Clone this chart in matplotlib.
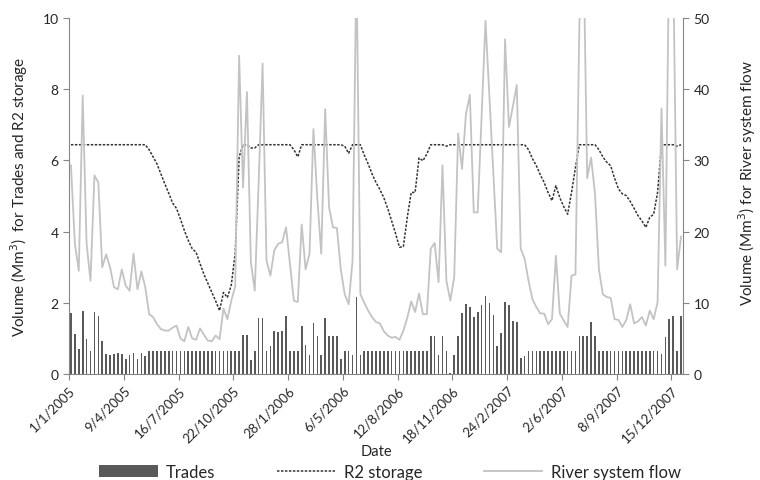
import numpy as np
import matplotlib.pyplot as plt
from matplotlib.patches import Patch
from matplotlib.lines import Line2D

plt.rcParams['font.family'] = ['Lato', 'DejaVu Sans']

# weekly values, 1/1/2005 onwards
trades = [1.71, 1.12, 0.70, 1.76, 0.98, 0.65, 1.73, 1.62, 0.92, 0.56,
          0.53, 0.56, 0.58, 0.56, 0.41, 0.53, 0.58, 0.41, 0.58, 0.50,
          0.64, 0.64, 0.64, 0.64, 0.64, 0.64, 0.64, 0.64, 0.64, 0.64,
          0.64, 0.64, 0.64, 0.64, 0.64, 0.64, 0.64, 0.64, 0.64, 0.64,
          0.64, 0.64, 0.64, 0.64, 1.10, 1.10, 0.40, 0.64, 1.56, 1.56,
          0.64, 0.80, 1.22, 1.17, 1.22, 1.64, 0.64, 0.64, 0.64, 1.36,
          0.82, 0.54, 1.43, 1.08, 0.54, 1.57, 1.08, 1.08, 1.08, 0.42,
          0.64, 0.64, 0.54, 2.17, 0.54, 0.64, 0.64, 0.64, 0.64, 0.64,
          0.64, 0.64, 0.64, 0.64, 0.64, 0.64, 0.64, 0.64, 0.64, 0.64,
          0.64, 0.64, 1.08, 1.08, 0.54, 1.08, 0.64, 0.03, 0.54, 1.08,
          1.71, 1.97, 1.89, 1.59, 1.73, 1.95, 2.18, 1.99, 1.66, 0.80,
          1.14, 2.03, 1.94, 1.50, 1.47, 0.44, 0.50, 0.64, 0.64, 0.64,
          0.64, 0.64, 0.64, 0.64, 0.64, 0.64, 0.64, 0.64, 0.64, 0.64,
          1.08, 1.08, 1.08, 1.45, 1.08, 0.64, 0.64, 0.64, 0.64, 0.64,
          0.64, 0.64, 0.64, 0.64, 0.64, 0.64, 0.64, 0.64, 0.64, 0.64,
          0.64, 0.56, 1.03, 1.55, 1.64, 0.64, 1.64]

storage = [6.44, 6.44, 6.44, 6.44, 6.44, 6.44, 6.44, 6.44, 6.44, 6.44,
           6.44, 6.44, 6.44, 6.44, 6.44, 6.44, 6.44, 6.44, 6.44, 6.44,
           6.30, 6.10, 5.90, 5.62, 5.34, 5.08, 4.80, 4.65, 4.35, 4.03,
           3.75, 3.52, 3.42, 3.10, 2.80, 2.55, 2.30, 2.05, 1.78, 2.29,
           2.15, 2.50, 3.40, 6.10, 6.44, 6.44, 6.35, 6.35, 6.44, 6.44,
           6.44, 6.44, 6.44, 6.44, 6.44, 6.44, 6.44, 6.30, 6.10, 6.44,
           6.44, 6.44, 6.44, 6.44, 6.44, 6.44, 6.44, 6.44, 6.44, 6.44,
           6.40, 6.20, 6.44, 6.44, 6.44, 6.15, 5.90, 5.62, 5.38, 5.18,
           4.95, 4.65, 4.30, 3.95, 3.56, 3.58, 4.40, 5.10, 5.10, 6.07,
           5.99, 6.18, 6.44, 6.44, 6.44, 6.44, 6.40, 6.44, 6.44, 6.44,
           6.44, 6.44, 6.44, 6.44, 6.44, 6.44, 6.44, 6.44, 6.44, 6.44,
           6.44, 6.44, 6.44, 6.44, 6.44, 6.44, 6.44, 6.30, 6.05, 5.85,
           5.60, 5.38, 5.10, 4.87, 5.29, 4.95, 4.70, 4.49, 5.10, 5.80,
           6.44, 6.44, 6.44, 6.44, 6.44, 6.30, 6.10, 5.95, 5.85, 5.50,
           5.20, 5.06, 5.01, 4.85, 4.65, 4.45, 4.30, 4.12, 4.40, 4.49,
           5.10, 6.44, 6.44, 6.44, 6.44, 6.40, 6.44]

river_flow = [29.3, 18.3, 14.5, 39.1, 18.3, 13.1, 27.9, 26.9, 15.0, 16.8,
              15.0, 12.2, 11.9, 14.7, 12.4, 11.7, 16.9, 11.9, 14.4, 12.2,
              8.4, 8.0, 7.0, 6.3, 6.1, 6.1, 6.5, 6.8, 5.0, 4.6,
              6.6, 5.0, 4.8, 6.4, 5.5, 4.7, 4.6, 5.4, 4.9, 9.2,
              7.7, 10.3, 12.3, 44.7, 26.2, 39.6, 15.7, 11.7, 27.0, 43.6,
              15.9, 13.8, 17.4, 18.3, 18.5, 20.6, 15.4, 10.3, 10.1, 21.0,
              14.7, 16.9, 34.4, 24.6, 16.9, 37.2, 23.4, 20.6, 20.5, 14.7,
              11.2, 9.8, 15.9, 58.0, 11.2, 10.0, 8.9, 8.0, 7.3, 7.1,
              6.0, 5.4, 5.1, 5.2, 4.8, 6.1, 7.9, 10.2, 8.7, 11.3,
              8.4, 8.4, 17.6, 18.4, 12.9, 29.3, 13.1, 10.3, 13.6, 33.8,
              28.8, 36.5, 39.2, 22.7, 22.7, 36.0, 49.6, 39.0, 28.5, 17.6,
              17.1, 47.0, 34.7, 37.6, 40.6, 17.6, 16.2, 13.1, 10.5, 9.4,
              8.5, 8.5, 7.0, 7.7, 16.6, 8.5, 7.5, 6.6, 13.8, 14.0,
              49.0, 62.0, 27.5, 30.4, 25.3, 14.7, 11.2, 10.8, 10.7, 7.7,
              7.6, 6.6, 7.6, 9.8, 7.1, 7.4, 8.0, 6.8, 8.9, 7.7,
              10.1, 37.3, 15.2, 62.0, 58.0, 14.7, 19.3]

date_labels = ['1/1/2005', '9/4/2005', '16/7/2005', '22/10/2005', '28/1/2006',
               '6/5/2006', '12/8/2006', '18/11/2006', '24/2/2007', '2/6/2007',
               '8/9/2007', '15/12/2007']

n = len(trades)
x = np.arange(n) + 0.5
spine_col = '#868686'
txt_col = '#262626'

fig = plt.figure(figsize=(7.6, 4.81), dpi=100)
ax = fig.add_axes([69/760, 106/481, 614/760, 356/481])
ax2 = ax.twinx()

ax.bar(x, trades, width=0.42, color='#595959', zorder=2)
ax.plot(x, storage, color='#333333', linewidth=1.1, linestyle=(0, (1.6, 1.0)), zorder=4)
ax2.plot(x, river_flow, color='#c3c3c3', linewidth=1.3, zorder=3)

ax.set_xlim(0, n)
ax.set_ylim(0, 10)
ax2.set_ylim(0, 50)
ax.set_yticks([0, 2, 4, 6, 8, 10])
ax2.set_yticks([0, 10, 20, 30, 40, 50])
ax.set_xticks(np.arange(0, 14 * len(date_labels), 14))
ax.set_xticklabels(date_labels, rotation=45, ha='right', rotation_mode='anchor')

for a in (ax, ax2):
    a.spines['top'].set_visible(False)
    for s in ('left', 'right', 'bottom'):
        a.spines[s].set_color(spine_col)
    a.tick_params(colors=spine_col, labelcolor=txt_col, labelsize=10, length=4)
ax.spines['right'].set_visible(False)
ax2.spines['left'].set_visible(False)
ax2.spines['bottom'].set_visible(False)
ax.tick_params(axis='x', labelsize=9.5, length=4, pad=3)

ax.set_xlabel('Date', fontsize=10.5, color=txt_col, labelpad=0)
ax.set_ylabel('Volume (Mm$^3$)  for Trades and R2 storage', fontsize=11, color=txt_col)
ax.yaxis.set_label_coords(-0.064, 0.5)
ax2.set_ylabel('Volume (Mm$^3$) for River system flow', fontsize=11, color=txt_col)
ax2.yaxis.set_label_coords(1.087, 0.54)

handles = [Patch(facecolor='#595959', edgecolor='none'),
           Line2D([], [], color='#333333', linewidth=1.1, linestyle=(0, (1.6, 1.0))),
           Line2D([], [], color='#c3c3c3', linewidth=1.3)]
fig.legend(handles, ['Trades', 'R2 storage', 'River system flow'], loc='center',
           bbox_to_anchor=(390/760, 8/481), ncol=3, frameon=False, fontsize=12,
           handlelength=3.5, handletextpad=0.5, columnspacing=3.7, labelcolor=txt_col)

fig.savefig('out.png', dpi=100)
